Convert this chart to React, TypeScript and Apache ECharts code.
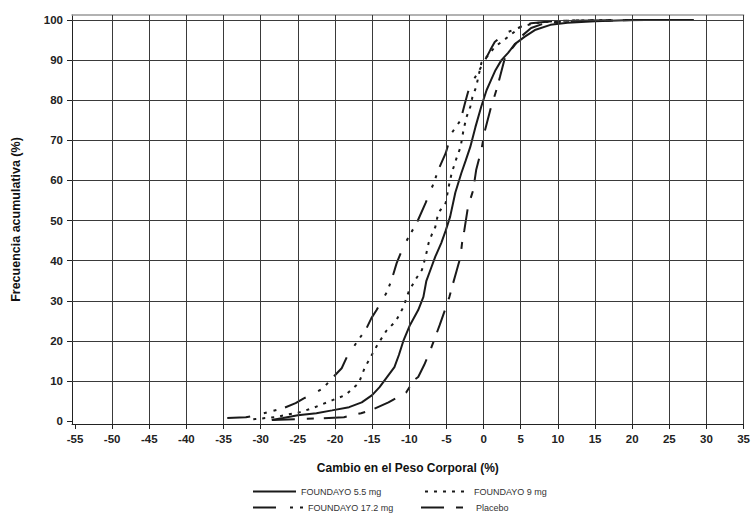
import React, { useEffect, useRef } from "react";
import * as echarts from "echarts";

const FONT = "'Liberation Sans', Arial, Helvetica, sans-serif";

const xTitle = "Cambio en el Peso Corporal (%)";
const yTitle = "Frecuencia acumulativa (%)";

const xTicks = [-55, -50, -45, -40, -35, -30, -25, -20, -15, -10, -5, 0, 5, 10, 15, 20, 25, 30, 35];
const yTicks = [0, 10, 20, 30, 40, 50, 60, 70, 80, 90, 100];
const xGrid = [-50, -45, -40, -35, -30, -25, -20, -15, -10, -5, 0, 5, 10, 15, 20, 25, 30, 35];
const yGrid = [10, 20, 30, 40, 50, 60, 70, 80, 90, 100];

const names = ["FOUNDAYO 5.5 mg", "FOUNDAYO 9 mg", "FOUNDAYO 17.2 mg", "Placebo"];

const x55 = [-28.5, -27, -25, -22.5, -20.4, -18.1, -16.4, -15, -14, -13, -12, -11.4, -10.8, -9.9, -8.8, -8.1, -7.7, -7, -6.5, -5.7, -5.1, -4.5, -3.8, -3, -2.4, -1.8, -1.1, -0.3, 0.4, 1, 1.6, 2.4, 3.3, 4.2, 5.5, 6.9, 9, 11.3, 15, 20, 28.3];
const y55 = [0.3, 0.8, 1.5, 2, 2.7, 3.5, 4.7, 6.5, 8.5, 11, 13.5, 16.5, 20, 24, 27.7, 31, 35, 38.5, 41, 44.4, 47.5, 51, 57, 61.8, 65, 68.3, 73.3, 78.5, 82.5, 85, 87.5, 90, 91.8, 94, 95.8, 97.5, 98.8, 99.3, 99.7, 100, 100];

const x9 = [-31, -28, -26, -24.8, -23.1, -20.4, -18.6, -16.8, -16, -15.2, -14.3, -13.1, -11.8, -10.8, -10.1, -9.2, -8.3, -7.8, -7.4, -7, -6.5, -6.1, -5.1, -4.7, -4.3, -3.6, -3.1, -2.7, -2.3, -1.8, -1.5, -1.0, -0.3, 0.9, 1.5, 3.3, 5, 6.9, 10, 18];
const y9 = [0.5, 1, 1.8, 2.2, 3.2, 5.2, 6.5, 9.5, 13.3, 16, 19, 22.5, 25, 28.4, 32.2, 35.2, 37.7, 41, 44.4, 46.4, 48.4, 51.9, 54.4, 58.4, 61.8, 65.8, 68.3, 72.6, 75.8, 78.3, 80.8, 83.3, 89.3, 91.8, 93.3, 95.8, 98.3, 99.2, 99.8, 100];

const x172 = [-34.5, -32, -30.5, -28.5, -27, -25.3, -24.2, -23.2, -21.6, -20.4, -19.1, -18.4, -17.1, -15.8, -15.1, -14.4, -13.9, -13, -12.3, -11.7, -11, -10.1, -9, -7.8, -6.7, -6.1, -5.1, -4.3, -3.1, -2.5, -2.1, -1.6, 0, 0.9, 1.5, 3, 4.6, 6.4, 10, 20];
const y172 = [0.8, 1, 1.5, 2.5, 3.2, 4.5, 5.7, 6.5, 8.2, 10.7, 13.2, 16, 19.6, 23, 25.7, 27.7, 29.4, 32.2, 35.7, 39.4, 42.6, 45.9, 49.4, 54.4, 59.4, 62.6, 66.8, 71.8, 75, 79.3, 82, 84.3, 89.3, 92.5, 94.5, 96.8, 98, 99.2, 99.8, 100];

const xPlacebo = [-28.5, -25, -22, -18.8, -16.5, -15.2, -12.8, -10.4, -9.4, -8.8, -8, -7.2, -6.6, -5.9, -5.2, -4.6, -4.1, -3.6, -3.1, -2.9, -2.6, -2.1, -1.4, -1, -0.3, 0.2, 0.9, 1.3, 1.8, 2.2, 2.9, 4, 5, 6.4, 8.2, 12, 22];
const yPlacebo = [0.3, 0.5, 0.7, 1, 2, 2.7, 4.7, 7.2, 10.2, 11, 14, 17.5, 20.5, 24, 27.7, 31, 34.4, 37.7, 41, 44.4, 47.5, 53.4, 57.6, 62.6, 67.6, 72.6, 77.6, 80, 83, 85.8, 90.8, 93.3, 95.8, 98, 99.2, 99.8, 100];

const zip = (xs: number[], ys: number[]) => xs.slice(0, Math.min(xs.length, ys.length)).map((x, i) => [x, ys[i]]);

const dashes: any[] = ["solid", [3, 6], [23, 14, 3, 7, 3, 9], [23, 12, 7, 10]];
const seriesData = [zip(x55, y55), zip(x9, y9), zip(x172, y172), zip(xPlacebo, yPlacebo)];

const legendPos = [
  { left: 252, top: 486, w: 43 },
  { left: 424, top: 486, w: 44 },
  { left: 252, top: 502, w: 50 },
  { left: 420, top: 502, w: 50 },
];

export default function App() {
  const ref = useRef<HTMLDivElement>(null);
  useEffect(() => {
    document.body.style.margin = "0";
    const chart = echarts.init(ref.current!, null, { renderer: "svg" });
    const labelStyle = { fontSize: 11.5, fontWeight: "bold", color: "#222", fontFamily: FONT };
    const option: any = {
      animation: false,
      backgroundColor: "#fff",
      grid: { left: 72, right: 6.6, top: 15, bottom: 93, containLabel: false },
      xAxis: [
        {
          type: "value",
          min: -55.4,
          max: 35,
          position: "bottom",
          axisLine: { show: true, onZero: false, lineStyle: { color: "#222", width: 1 } },
          axisTick: { show: true, length: 5, customValues: xTicks, lineStyle: { color: "#222" } },
          axisLabel: { customValues: xTicks, margin: 9, ...labelStyle },
          splitLine: { show: false },
          name: xTitle,
          nameLocation: "middle",
          nameGap: 38,
          nameTextStyle: { fontSize: 12, fontWeight: "bold", color: "#111", fontFamily: FONT },
        },
        {
          type: "value",
          min: -55.4,
          max: 35,
          position: "top",
          axisLine: { show: true, onZero: false, lineStyle: { color: "#999", width: 1.5 } },
          axisTick: { show: false },
          axisLabel: { show: false },
          splitLine: { show: false },
        },
      ],
      yAxis: {
        type: "value",
        min: -0.7,
        max: 101.25,
        axisLine: { show: true, onZero: false, lineStyle: { color: "#222", width: 1 } },
        axisTick: { show: true, length: 5, customValues: yTicks, lineStyle: { color: "#222" } },
        axisLabel: { customValues: yTicks, margin: 9, ...labelStyle },
        splitLine: { show: false },
        name: yTitle,
        nameLocation: "middle",
        nameGap: 50,
        nameTextStyle: { fontSize: 12.5, fontWeight: "bold", color: "#111", fontFamily: FONT },
      },
      legend: legendPos.map((p, i) => ({
        show: true,
        left: p.left,
        top: p.top,
        padding: 0,
        itemWidth: p.w,
        itemHeight: 14,
        selectedMode: false,
        data: [names[i]],
        itemStyle: { opacity: 0 },
        lineStyle: { opacity: 1 },
        textStyle: { fontSize: 9, color: "#333", fontFamily: FONT },
      })),
      series: [
        {
          type: "line",
          name: "grid",
          data: [],
          silent: true,
          z: 1,
          markLine: {
            silent: true,
            symbol: ["none", "none"],
            label: { show: false },
            lineStyle: { color: "#3a3a3a", width: 1, type: "solid" },
            emphasis: { disabled: true },
            data: [...xGrid.map((v) => ({ xAxis: v })), ...yGrid.map((v) => ({ yAxis: v }))],
          },
        },
        ...names.map((n, i) => ({
          type: "line",
          name: n,
          data: seriesData[i],
          symbol: "none",
          showSymbol: false,
          z: 3,
          itemStyle: { color: "#1a1a1a" },
          lineStyle: { color: "#1a1a1a", width: 2, type: dashes[i] },
          emphasis: { disabled: true },
        })),
      ],
    };
    chart.setOption(option);
    return () => chart.dispose();
  }, []);
  return <div ref={ref} style={{ width: 753, height: 517 }} />;
}
